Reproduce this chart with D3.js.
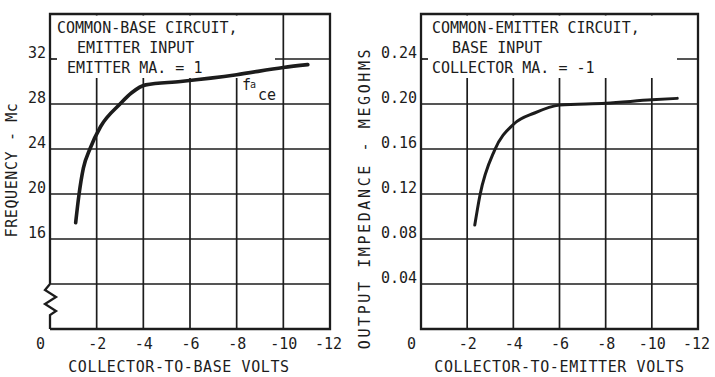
<!DOCTYPE html>
<html>
<head>
<meta charset="utf-8">
<script src="https://cdn.jsdelivr.net/npm/d3@7"></script>
<style>
  html, body { margin: 0; padding: 0; background: #fff; }
  svg { display: block; }
  text { font-family: "DejaVu Sans Mono", "Liberation Mono", monospace; fill: #1c1c1c; }
</style>
</head>
<body>
<svg id="chart" width="715" height="377"></svg>
<script>
// Volt ticks shared by both panels
const voltTicks = [0, -2, -4, -6, -8, -10, -12];

// Common-base panel: alpha cutoff frequency (Mc) vs collector-to-base volts
const freqTicks = [16, 20, 24, 28, 32];
const freqGrid = [12, 16, 20, 24, 28, 32];
const cbVolts = [-1.10, -1.24, -1.43, -1.71, -2.17, -3.0, -3.5, -4.1, -5.6, -8.0, -10.0, -11.05];
const cbFreq  = [17.45, 19.9, 22.3, 24.0, 26.0, 28.0, 29.0, 29.7, 30.0, 30.6, 31.25, 31.5];
const cbNotes = ["COMMON-BASE CIRCUIT,", "EMITTER INPUT", "EMITTER MA. = 1"];

// Common-emitter panel: output impedance (megohms) vs collector-to-emitter volts
const impTicks = [0.04, 0.08, 0.12, 0.16, 0.20, 0.24];
const ceVolts = [-2.33, -2.55, -3.19, -4.01, -4.92, -6.0, -8.0, -10.0, -11.1];
const ceImp   = [0.0924, 0.1185, 0.159, 0.182, 0.192, 0.199, 0.2007, 0.2037, 0.205];
const ceNotes = ["COMMON-EMITTER CIRCUIT,", "BASE INPUT", "COLLECTOR MA. = -1"];

const ink = "#1c1c1c";
const svg = d3.select("#chart");

function panel(opt) {
  const x = d3.scaleLinear().domain([0, -12]).range([opt.x0, opt.x1]);
  const y = d3.scaleLinear().domain(opt.yDomain).range([329, 14]);
  const g = svg.append("g");

  // grid
  g.append("g").selectAll("line.v").data(voltTicks.slice(1, -1)).join("line")
    .attr("x1", d => x(d)).attr("x2", d => x(d)).attr("y1", y.range()[1]).attr("y2", y.range()[0])
    .attr("stroke", ink).attr("stroke-width", 1.7);
  g.append("g").selectAll("line.h").data(opt.grid).join("line")
    .attr("x1", x(0)).attr("x2", x(-12)).attr("y1", d => y(d)).attr("y2", d => y(d))
    .attr("stroke", ink).attr("stroke-width", 1.7);

  // cleared area behind the circuit notes
  g.append("rect").attr("x", x(0) + 1.5).attr("y", y.range()[1] + 1.5)
    .attr("width", opt.clearTo - x(0) - 1.5).attr("height", 78 - y.range()[1] - 1.5)
    .attr("fill", "#fff");
  // short tick for the topmost value at the frame
  const top = opt.grid[opt.grid.length - 1];
  g.append("line").attr("x1", x(0)).attr("x2", x(0) + 7).attr("y1", y(top)).attr("y2", y(top))
    .attr("stroke", ink).attr("stroke-width", 1.7);

  // frame
  const fx0 = x(0), fx1 = x(-12), fy0 = y.range()[1], fy1 = y.range()[0];
  g.append("path").attr("fill", "none").attr("stroke", ink).attr("stroke-width", 2.3)
    .attr("stroke-linejoin", "miter")
    .attr("d", opt.breakAt != null
      ? (() => {
          const yb = y(opt.breakAt);
          return `M${fx0},${yb} L${fx0},${fy0} L${fx1},${fy0} L${fx1},${fy1} L${fx0},${fy1}` +
            ` M${fx0},${yb} L${fx0 - 5},${yb + 6} L${fx0 + 6},${yb + 13} L${fx0 - 5},${yb + 20}` +
            ` L${fx0 + 6},${yb + 27} L${fx0},${yb + 31} L${fx0},${fy1}`;
        })()
      : `M${fx0},${fy0} L${fx1},${fy0} L${fx1},${fy1} L${fx0},${fy1} Z`);

  // axes (labels only)
  const xa = g.append("g").attr("transform", `translate(0,${fy1})`)
    .call(d3.axisBottom(x).tickValues(voltTicks).tickSize(0).tickPadding(9)
      .tickFormat(d => String(d)));
  xa.select(".domain").remove();
  xa.selectAll("text").attr("font-size", 15).attr("font-family", "DejaVu Sans Mono").attr("fill", ink)
    .attr("dx", d => d === 0 ? -10 : (d === -12 ? -2 : 0));

  const ya = g.append("g").attr("transform", `translate(${fx0},0)`)
    .call(d3.axisLeft(y).tickValues(opt.ticks).tickSize(0).tickPadding(4).tickFormat(opt.fmt));
  ya.select(".domain").remove();
  ya.selectAll("text").attr("font-size", 15).attr("font-family", "DejaVu Sans Mono").attr("fill", ink)
    .attr("dy", "-0.1em");

  // axis titles
  g.append("text").attr("x", (fx0 + fx1) / 2 + opt.xTitleShift).attr("y", 372)
    .attr("text-anchor", "middle").attr("font-size", 15).attr("letter-spacing", 0.6)
    .text(opt.xTitle);
  g.append("text").attr("transform", `translate(${opt.yTitleX},${opt.yTitleY}) rotate(-90)`)
    .attr("text-anchor", "middle").attr("font-size", 15).attr("letter-spacing", opt.yTitleSpacing)
    .text(opt.yTitle);

  // notes
  g.append("g").selectAll("text").data(opt.notes).join("text")
    .attr("x", (d, i) => fx0 + opt.noteIndent[i]).attr("y", (d, i) => 33 + i * 20)
    .attr("font-size", 15).text(d => d);

  // curve
  const line = d3.line().x(d => x(d[0])).y(d => y(d[1])).curve(d3.curveMonotoneX);
  g.append("path").datum(d3.zip(opt.volts, opt.vals)).attr("fill", "none").attr("stroke", ink)
    .attr("stroke-width", opt.curveWidth).attr("stroke-linecap", "round").attr("d", line);
  return { x, y, g };
}

const left = panel({
  x0: 50, x1: 330, yDomain: [8, 36], grid: freqGrid, ticks: freqTicks, fmt: d3.format("d"),
  clearTo: 275, breakAt: 12, notes: cbNotes, noteIndent: [7, 27, 17],
  xTitle: "COLLECTOR-TO-BASE VOLTS", xTitleShift: -11,
  yTitle: "FREQUENCY - Mc", yTitleX: 17, yTitleY: 170, yTitleSpacing: 0.6,
  volts: cbVolts, vals: cbFreq, curveWidth: 3.6
});

// subscripted curve label
left.g.append("text").attr("x", 242).attr("y", 90).attr("font-size", 15).text("f");
left.g.append("text").attr("x", 250).attr("y", 88).attr("font-size", 10).text("a");
left.g.append("text").attr("x", 258).attr("y", 100).attr("font-size", 15).text("ce");

panel({
  x0: 421, x1: 698, yDomain: [0, 0.28], grid: impTicks, ticks: impTicks, fmt: d3.format(".2f"),
  clearTo: 677, breakAt: null, notes: ceNotes, noteIndent: [11, 31, 11],
  xTitle: "COLLECTOR-TO-EMITTER VOLTS", xTitleShift: 0,
  yTitle: "OUTPUT IMPEDANCE - MEGOHMS", yTitleX: 370, yTitleY: 198, yTitleSpacing: 2.6,
  volts: ceVolts, vals: ceImp, curveWidth: 3
});
</script>
</body>
</html>
